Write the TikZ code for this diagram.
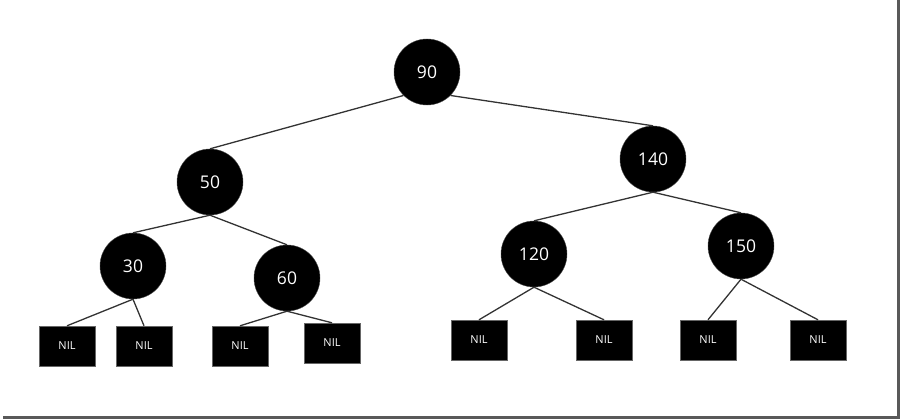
\documentclass[tikz,border=0pt]{standalone}
\usepackage{fontspec}
\setmainfont{Open Sans}
\begin{document}
\begin{tikzpicture}[x=1pt,y=-1pt,
  rbnode/.style={circle,fill=black,draw=black!70,line width=0.4pt,minimum size=66pt,inner sep=0pt,text=white,font=\fontsize{17.5}{17.5}\selectfont},
  nilbox/.style={rectangle,fill=black,draw=black!60,line width=0.4pt,minimum width=56pt,minimum height=40pt,inner sep=0pt,text=white,font=\fontsize{11}{11}\selectfont},
  edge/.style={draw=black!80,line width=1.3pt},
  frame/.style={draw=black!65,line width=2.5pt}]
\useasboundingbox (0,0) rectangle (900,420);
% frame shadow lines
\coordinate (fr1) at (898.5,0);
\coordinate (fr2) at (898.5,417.5);
\coordinate (fr3) at (3,417.5);
\draw[frame] (fr1) -- (fr2) -- (fr3);
% circles
\node[rbnode] (n90) at (427,72) {90};
\node[rbnode] (n50) at (210,182) {50};
\node[rbnode] (n140) at (653,159) {140};
\node[rbnode] (n30) at (133,266) {30};
\node[rbnode] (n60) at (287,278) {60};
\node[rbnode] (n120) at (534,254) {120};
\node[rbnode] (n150) at (741,246) {150};
% NIL boxes
\node[nilbox] (l1) at (67,346) {NIL};
\node[nilbox] (l2) at (144,346) {NIL};
\node[nilbox] (l3) at (240,346) {NIL};
\node[nilbox] (l4) at (332,343) {NIL};
\node[nilbox] (l5) at (479,340) {NIL};
\node[nilbox] (l6) at (604,340) {NIL};
\node[nilbox] (l7) at (708,340) {NIL};
\node[nilbox] (l8) at (818,340) {NIL};
% edges
\draw[edge] (n90.south west) -- (n50.north);
\draw[edge] (n90.south east) -- (n140.north);
\draw[edge] (n50.south) -- (n30.north);
\draw[edge] (n50.south) -- (n60.north);
\draw[edge] (n140.south) -- (n120.north);
\draw[edge] (n140.south) -- (n150.north);
\draw[edge] (n30.south) -- (l1.north);
\draw[edge] (n30.south) -- (l2.north);
\draw[edge] (n60.south) -- (l3.north);
\draw[edge] (n60.south) -- (l4.north);
\draw[edge] (n120.south) -- (l5.north);
\draw[edge] (n120.south) -- (l6.north);
\draw[edge] (n150.south) -- (l7.north);
\draw[edge] (n150.south) -- (l8.north);
\end{tikzpicture}
\end{document}
